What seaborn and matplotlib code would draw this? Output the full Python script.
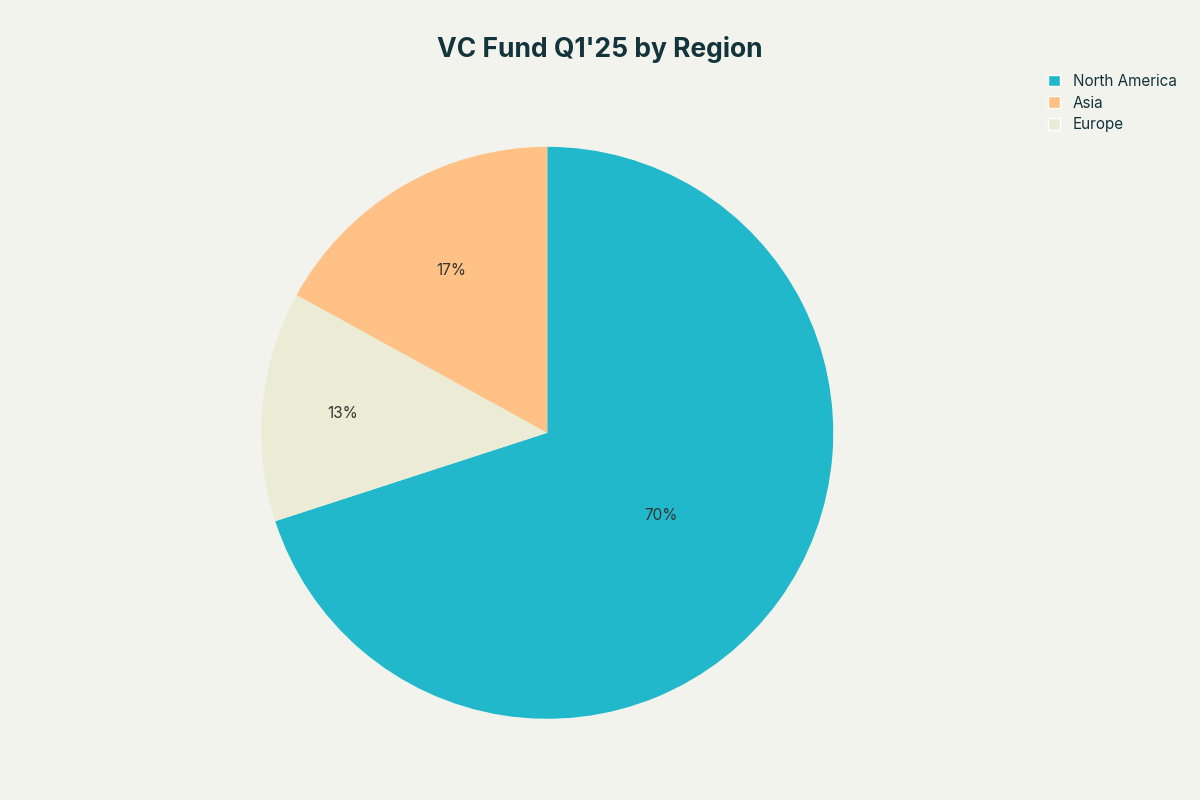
import matplotlib
matplotlib.use("Agg")
import matplotlib.pyplot as plt
import seaborn as sns
from matplotlib.patches import Patch

regions = ["North America", "Europe", "Asia"]
shares = [70, 13, 17]
colors = ["#21B8CC", "#ECEBD5", "#FFC185"]
legend_order = ["North America", "Asia", "Europe"]
label_dist = [0.49, 0.72, 0.66]

bg = "#F3F3EE"
sns.set_theme(style="white", rc={"figure.facecolor": bg, "axes.facecolor": bg, "font.family": "Inter"})
fig = plt.figure(figsize=(12, 8), dpi=100)
ax = fig.add_axes([0.456 - 0.2383, 0.459 - 0.3575, 0.4767, 0.715])
wedges, texts, autotexts = ax.pie(shares, colors=colors, startangle=90, counterclock=False,
                                  autopct="%d%%", pctdistance=1.0,
                                  wedgeprops={"linewidth": 0},
                                  textprops={"fontsize": 11, "color": "#333333"})
for t, d in zip(autotexts, label_dist):
    x, y = t.get_position()
    t.set_position((x * d, y * d))
ax.set_xlim(-1, 1)
ax.set_ylim(-1, 1)
ax.set_aspect("equal")
ax.axis("off")
fig.suptitle("VC Fund Q1'25 by Region", x=0.5, y=0.955, fontsize=19, fontweight="bold", color="#13343B")
handles = [Patch(facecolor=colors[regions.index(r)], label=r) for r in legend_order]
fig.legend(handles=handles, loc="upper left", bbox_to_anchor=(0.862, 0.925), frameon=False,
           fontsize=11, handlelength=0.8, handleheight=0.8, labelcolor="#13343B", labelspacing=0.45)
fig.savefig("out.png", facecolor=bg)
